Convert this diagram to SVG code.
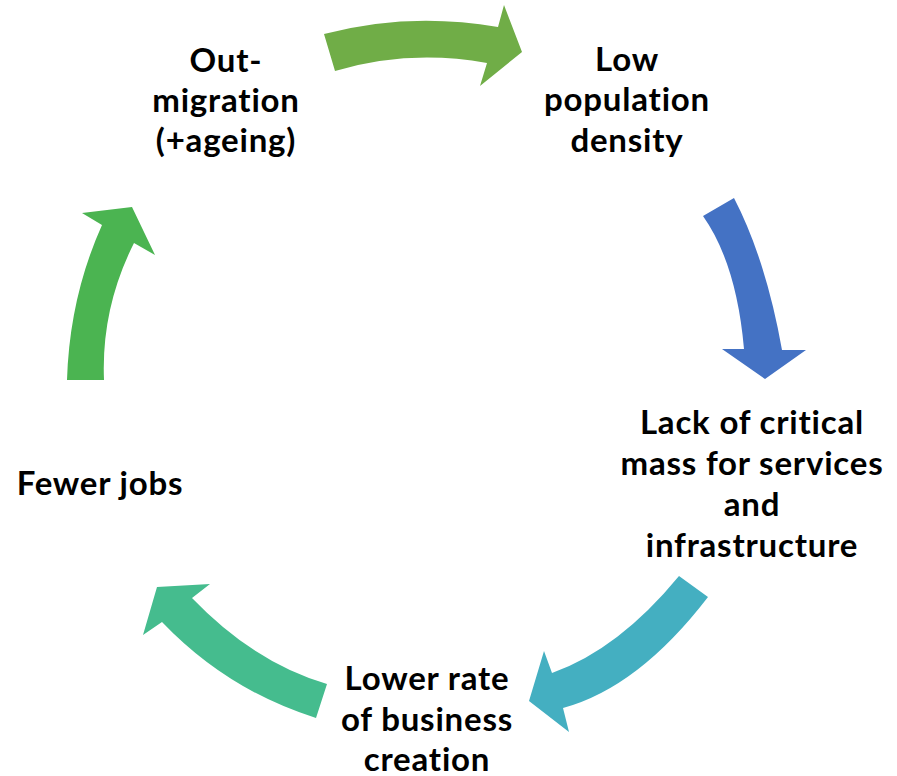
<svg xmlns="http://www.w3.org/2000/svg" width="897" height="776" viewBox="0 0 897 776">
<style>
  .t { font-family: Lato, "Open Sans", sans-serif; font-weight: bold; font-size: 33px; letter-spacing: 0.8px; fill: #000; text-anchor: middle; }
</style>
<rect width="897" height="776" fill="#fff"/>
<g id="connectors">
  <path id="a1" fill="#70AD47" d="M324,34 Q409,11.5 498,27 L504,5 L522,52 L480,86 L487,63 Q409,49 335,71 Z"/>
  <path id="a2" fill="#4472C4" d="M703,216 L734,198 Q766,260 782,350 L806,350 L765,379 L722,349 L744,349 Q736.5,263.5 703,216 Z"/>
  <path id="a3" fill="#44AFC1" d="M679,576 L708,597 Q638.5,687.5 563,708 L569,732 L529,701 L544,651 L552,673 Q618.5,649.5 679,576 Z"/>
  <path id="a4" fill="#45BC8E" d="M316,718 L327,684 Q254.5,663 192,598 L210,584 L157,587 L143,635 L162,622 Q227,690 316,718 Z"/>
  <path id="a5" fill="#4BB451" d="M67,380 L104,380 Q101,308.5 134,243 L155,255 L132,207 L82,213 L102,225 Q69.5,297.5 67,380 Z"/>
</g>
<g id="n1">
  <text class="t" x="226" y="72">Out-</text>
  <text class="t" x="226" y="112">migration</text>
  <text class="t" x="226" y="152">(+ageing)</text>
</g>
<g id="n2">
  <text class="t" x="627" y="71">Low</text>
  <text class="t" x="627" y="111">population</text>
  <text class="t" x="627" y="152">density</text>
</g>
<g id="n3">
  <text class="t" x="752" y="434">Lack of critical</text>
  <text class="t" x="752" y="475">mass for services</text>
  <text class="t" x="752" y="516">and</text>
  <text class="t" x="752" y="557">infrastructure</text>
</g>
<g id="n4">
  <text class="t" x="427" y="690">Lower rate</text>
  <text class="t" x="427" y="731">of business</text>
  <text class="t" x="427" y="771">creation</text>
</g>
<g id="n5">
  <text class="t" x="100" y="495">Fewer jobs</text>
</g>
</svg>
